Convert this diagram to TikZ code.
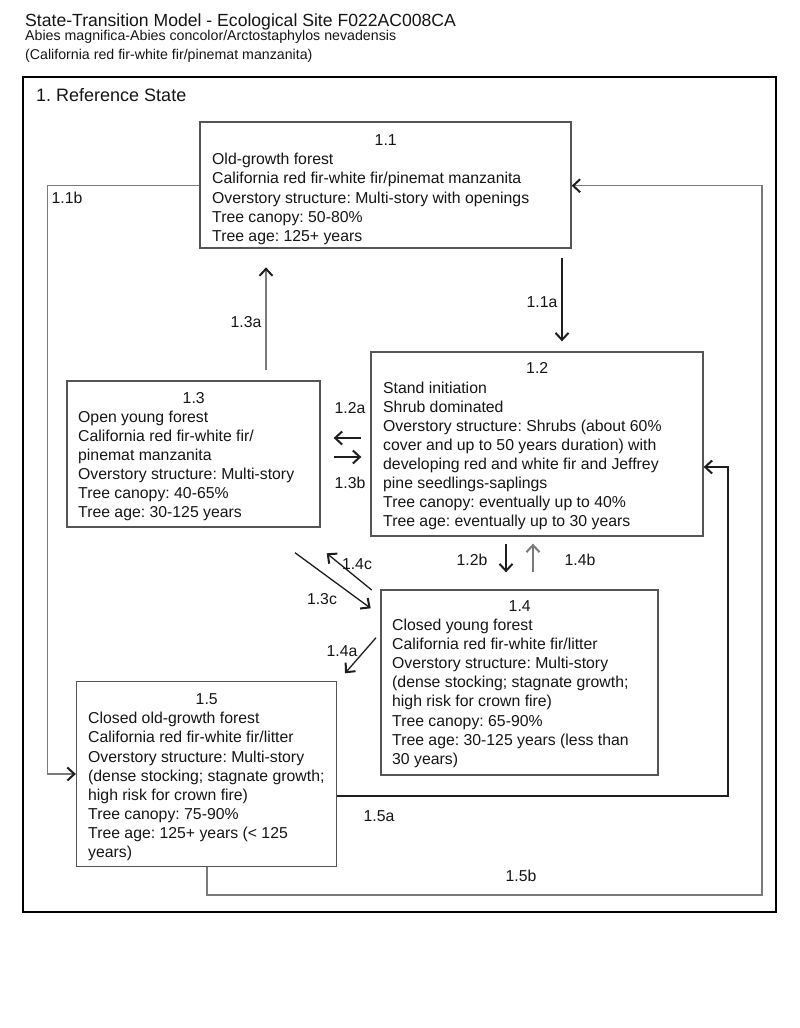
\documentclass[tikz,border=0pt]{standalone}
\usepackage{fontspec}
\setmainfont{Liberation Sans}
\usetikzlibrary{arrows.meta}
\definecolor{boxgray}{HTML}{555555}
\definecolor{darkln}{HTML}{1E1E1E}
\definecolor{lightln}{HTML}{7A7A7A}
\definecolor{txtcol}{HTML}{151515}
\frenchspacing
\tikzset{
  boxst/.style={draw=boxgray, line width=1.3pt, inner sep=0pt},
  txt/.style={anchor=north west, inner sep=0pt, align=left, text=txtcol,
    font=\fontsize{15.8}{19.1}\selectfont\frenchspacing},
  lab/.style={inner sep=0pt, text=txtcol, font=\fontsize{15.8}{19.1}\selectfont},
  tip/.style={-{Straight Barb[length=7pt,width=13pt,line width=2pt]}},
  tipdark/.style={-{Straight Barb[length=7pt,width=13pt,line width=2pt,color=darkln]}},
  arrD/.style={draw=darkln, line width=1.3pt, tip},
  arrG/.style={draw=lightln, line width=1.3pt, tipdark},
  arrL/.style={draw=lightln, line width=1.3pt, tip},
}
\begin{document}
\begin{tikzpicture}[x=1pt,y=-1pt]
\useasboundingbox (0,0) rectangle (800,1028);
% titles
\node[anchor=base west, inner sep=0pt, text=txtcol, font=\fontsize{17.6}{20}\selectfont] (title) at (25,26) {State-Transition Model - Ecological Site F022AC008CA};
\node[anchor=base west, inner sep=0pt, text=txtcol, font=\fontsize{14.2}{17}\selectfont] (sub1) at (25,40.8) {Abies magnifica-Abies concolor/Arctostaphylos nevadensis};
\node[anchor=base west, inner sep=0pt, text=txtcol, font=\fontsize{14.2}{17}\selectfont] (sub2) at (25,59.5) {(California red fir-white fir/pinemat manzanita)};
% outer frame
\draw[line width=2.2pt, draw=black] (22.7,77.3) rectangle (776,912);
\node[anchor=base west, inner sep=0pt, text=txtcol, font=\fontsize{18}{21}\selectfont\frenchspacing] (refstate) at (36,101.7) {1. Reference State};
% boxes
\node[boxst, minimum width=371pt, minimum height=126pt] (b11) at (385.5,185) {};
\node[boxst, minimum width=332pt, minimum height=184pt] (b12) at (537,444) {};
\node[boxst, minimum width=253pt, minimum height=146pt] (b13) at (193.5,454) {};
\node[boxst, minimum width=277pt, minimum height=185pt] (b14) at (519.5,682.5) {};
\node[boxst, minimum width=260pt, minimum height=185pt] (b15) at (206.5,774) {};
% texts
\node[txt] (t11) at (212,134.7) {\makebox[347pt]{1.1}\\Old-growth forest\\California red fir-white fir/pinemat manzanita\\Overstory structure: Multi-story with openings\\Tree canopy: 50-80\%\\Tree age: 125+ years};
\node[txt] (t12) at (383,362.7) {\makebox[308pt]{1.2}\\Stand initiation\\Shrub dominated\\Overstory structure: Shrubs (about 60\%\\cover and up to 50 years duration) with\\developing red and white fir and Jeffrey\\pine seedlings-saplings\\Tree canopy: eventually up to 40\%\\Tree age: eventually up to 30 years};
\node[txt] (t13) at (78,392) {\makebox[231pt]{1.3}\\Open young forest\\California red fir-white fir/\\pinemat manzanita\\Overstory structure: Multi-story\\Tree canopy: 40-65\%\\Tree age: 30-125 years};
\node[txt] (t14) at (392,600.4) {\makebox[255pt]{1.4}\\Closed young forest\\California red fir-white fir/litter\\Overstory structure: Multi-story\\(dense stocking; stagnate growth;\\high risk for crown fire)\\Tree canopy: 65-90\%\\Tree age: 30-125 years (less than\\30 years)};
\node[txt] (t15) at (88,693.7) {\makebox[237pt]{1.5}\\Closed old-growth forest\\California red fir-white fir/litter\\Overstory structure: Multi-story\\(dense stocking; stagnate growth;\\high risk for crown fire)\\Tree canopy: 75-90\%\\Tree age: 125+ years (< 125\\years)};
% helper coordinates
\coordinate (x11a) at (562,0);
\coordinate (x13a) at (266,0);
\coordinate (x12b) at (506,0);
\coordinate (x14b) at (533,0);
\coordinate (y12a) at (0,438);
\coordinate (y13b) at (0,457);
\coordinate (k1a) at (47.7,185.7);
\coordinate (k1b) at (47.7,774);
\coordinate (k5a) at (728,796);
\coordinate (k5b) at (728,467);
\coordinate (k6a) at (207,895);
\coordinate (k6b) at (762,895);
\coordinate (k6c) at (762,185.7);
\coordinate (c3a) at (295,552.7);
\coordinate (c3b) at (370.7,608.3);
\coordinate (c4a) at (371.7,590);
\coordinate (c4b) at (326.7,553.3);
\coordinate (c5a) at (376,637.7);
\coordinate (c5b) at (345,673.3);
% connectors
\draw[arrD, shorten <=9pt, shorten >=10pt] (b11.south -| x11a) -- (b12.north -| x11a);
\draw[arrG] (b11.west |- k1a) -- (k1a) -- (k1b) -- (b15.west |- k1b);
\draw[arrG] (b15.south -| k6a) -- (k6a) -- (k6b) -- (k6c) -- (b11.east |- k6c);
\draw[arrD] (b15.east |- k5a) -- (k5a) -- (k5b) -- (b12.east |- k5b);
\draw[arrG, shorten <=10pt, shorten >=18.7pt] (b13.north -| x13a) -- (b11.south -| x13a);
\draw[arrD, shorten <=9pt, shorten >=13pt] (b12.west |- y12a) -- (b13.east |- y12a);
\draw[arrD, shorten <=13pt, shorten >=9pt] (b13.east |- y13b) -- (b12.west |- y13b);
\draw[arrD, shorten <=7pt, shorten >=17pt] (b12.south -| x12b) -- (b14.north -| x12b);
\draw[arrL, shorten <=17pt, shorten >=7pt] (b14.north -| x14b) -- (b12.south -| x14b);
\draw[arrD] (c3a) -- (c3b);
\draw[arrD] (c4a) -- (c4b);
\draw[arrD] (c5a) -- (c5b);
% labels
\node[lab] (l11a) at (542,302) {1.1a};
\node[lab] (l11b) at (67,198) {1.1b};
\node[lab] (l13a) at (246,322) {1.3a};
\node[lab] (l12a) at (350,408) {1.2a};
\node[lab] (l13b) at (350,483) {1.3b};
\node[lab] (l12b) at (472,560) {1.2b};
\node[lab] (l14b) at (580,560) {1.4b};
\node[lab] (l13c) at (322,599) {1.3c};
\node[lab] (l14c) at (357,564) {1.4c};
\node[lab] (l14a) at (342,651) {1.4a};
\node[lab] (l15a) at (379,816) {1.5a};
\node[lab] (l15b) at (521,876) {1.5b};
\end{tikzpicture}
\end{document}
